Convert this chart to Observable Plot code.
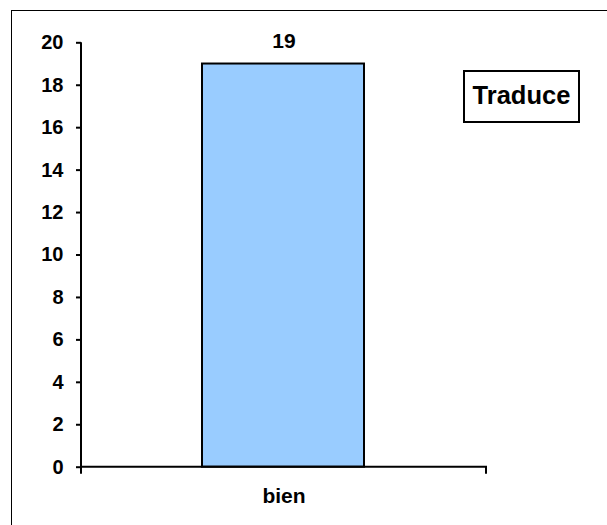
<!DOCTYPE html>
<html>
<head>
<meta charset="utf-8">
<script src="https://cdn.jsdelivr.net/npm/d3@7"></script>
<script src="https://cdn.jsdelivr.net/npm/@observablehq/plot@0.6"></script>
<style>
  html, body { margin: 0; padding: 0; background: #fff; }
  #wrap { position: relative; width: 607px; height: 525px; overflow: hidden; background: #fff;
          font-family: "Liberation Sans", Arial, sans-serif; }
  #frame { position: absolute; left: 11px; top: 10px; width: 700px; height: 700px;
           border-top: 1.5px solid #000; border-left: 1.5px solid #000; pointer-events: none; }
  #legend { position: absolute; left: 463px; top: 70px; width: 117px; height: 53px; box-sizing: border-box;
            border: 2px solid #000; display: flex; align-items: center; justify-content: center;
            font-weight: bold; font-size: 25.5px; color: #000; background: #fff; padding-bottom: 3px; }
  #chart { position: absolute; left: 0; top: 0; }
</style>
</head>
<body>
<div id="wrap">
  <div id="chart"></div>
  <div id="frame"></div>
  <div id="legend"></div>
</div>
<script>
const categories = ["bien"];
const values = [19];
const seriesName = "Traduce";
const yTicks = [0, 2, 4, 6, 8, 10, 12, 14, 16, 18, 20];

const data = categories.map((c, i) => ({cat: c, value: values[i]}));

const axisLines = (index, scales, vals, dims) => {
  const g = d3.create("svg:g").attr("stroke", "#000").attr("stroke-width", 2).attr("fill", "none");
  const x0 = dims.marginLeft, x1 = dims.width - dims.marginRight;
  const yb = dims.height - dims.marginBottom, yt = dims.marginTop;
  g.append("path").attr("d", `M${x0},${yt}V${yb + 7}`);
  g.append("path").attr("d", `M${x0},${yb}H${x1}V${yb + 7}`);
  return g.node();
};

const chart = Plot.plot({
  width: 607,
  height: 525,
  marginLeft: 81,
  marginRight: 121,
  marginTop: 42.3,
  marginBottom: 58.3,
  style: {fontFamily: '"Liberation Sans", Arial, sans-serif', color: "#000", background: "transparent"},
  x: {domain: categories, padding: 0, axis: null},
  y: {domain: [0, 20], axis: null},
  marks: [
    Plot.barY(data, {x: "cat", y: "value", fill: "#99CCFF", stroke: "#000", strokeWidth: 2, insetLeft: 121, insetRight: 122}),
    axisLines,
    Plot.axisY({ticks: yTicks, tickSize: 5, tickPadding: 13, strokeWidth: 2, fontSize: 20, fontWeight: "bold", label: null, tickFormat: d => String(d)}),
    Plot.axisX({tickSize: 0, tickPadding: 21, fontSize: 21, fontWeight: "bold", label: null}),
    Plot.text(data, {x: "cat", y: "value", text: d => String(d.value), lineAnchor: "bottom", dy: -16, fontSize: 21, fontWeight: "bold"})
  ]
});
document.getElementById("chart").appendChild(chart);
document.getElementById("legend").textContent = seriesName;
</script>
</body>
</html>
